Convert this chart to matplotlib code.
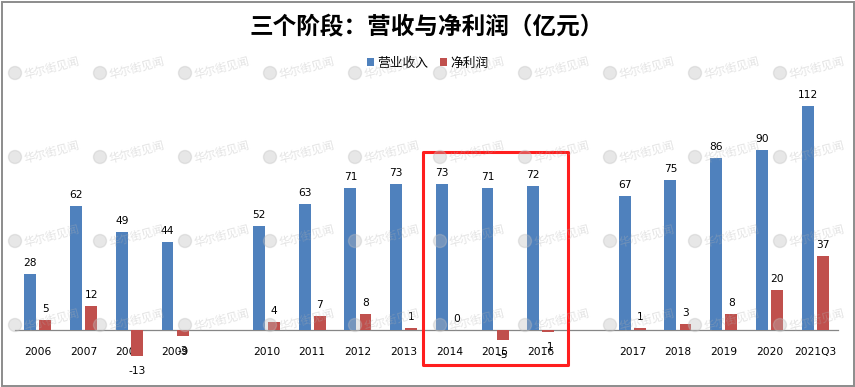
import matplotlib
matplotlib.use('Agg')
import matplotlib.pyplot as plt
import numpy as np
from matplotlib.patches import Rectangle, Circle

plt.rcParams['font.family'] = ['DejaVu Sans', 'Noto Sans CJK SC']

# ---- data ----
categories = ['2006', '2007', '2008', '2009', '',
              '2010', '2011', '2012', '2013', '2014', '2015', '2016', '',
              '2017', '2018', '2019', '2020', '2021Q3']
revenue = [28, 62, 49, 44, None, 52, 63, 71, 73, 73, 71, 72, None, 67, 75, 86, 90, 112]
profit = [5, 12, -13, -3, None, 4, 7, 8, 1, 0, -5, -1, None, 1, 3, 8, 20, 37]
series_names = ['营业收入', '净利润']
title = '三个阶段：营收与净利润（亿元）'
highlight = ['2014', '2016']
watermark = '华尔街见闻'

BLUE = '#4F81BD'
RED = '#C0504D'

W, H = 855, 387
fig = plt.figure(figsize=(W / 100, H / 100), dpi=100)
ax = fig.add_axes([15 / W, (H - 380) / H, 823 / W, 300 / H])

x = np.arange(len(categories))
rev = np.array([np.nan if v is None else v for v in revenue], dtype=float)
pro = np.array([np.nan if v is None else v for v in profit], dtype=float)

bw = 0.26
off = 0.165
b1 = ax.bar(x - off, rev, bw, color=BLUE, label=series_names[0], zorder=2)
b2 = ax.bar(x + off, pro, bw, color=RED, label=series_names[1], zorder=2)

ax.set_xlim(-0.5, len(categories) - 0.5)
ax.set_ylim(-25, 125)

for s in ['top', 'right', 'left']:
    ax.spines[s].set_visible(False)
ax.spines['bottom'].set_position(('data', 0))
ax.spines['bottom'].set_color('#868686')
ax.spines['bottom'].set_linewidth(0.9)
ax.spines['bottom'].set_zorder(1)
ax.set_yticks([])
ax.set_xticks(x)
ax.set_xticklabels(categories, fontsize=7.7, color='black')
ax.tick_params(axis='x', length=0, pad=12.5)

def label(xs, vals):
    for xi, v in zip(xs, vals):
        if np.isnan(v):
            continue
        dy = 11 if v >= 0 else -15
        ax.annotate(f'{int(v)}', xy=(xi, v), xytext=(0, dy), textcoords='offset pixels',
                    ha='center', va='center', fontsize=7.7, color='black', zorder=3,
                    annotation_clip=False)

label(x - off, rev)
label(x + off, pro)

# highlight box around 2014-2016
i0 = categories.index(highlight[0])
i1 = categories.index(highlight[1])
ax.add_patch(Rectangle((i0 - 0.58, -17.5), (i1 - i0) + 1.18, 106.5, fill=False,
                       edgecolor='#ff1e1e', linewidth=2.2, joinstyle='round',
                       clip_on=False, zorder=4))

# title & legend
fig.text(427 / W, 1 - 26 / H, title, ha='center', va='center', fontsize=17,
         fontweight='bold', family=['Noto Sans CJK SC'])
fig.legend(handles=[b1, b2], labels=series_names, loc='center',
           bbox_to_anchor=(428 / W, 1 - 63 / H), ncol=2, frameon=False,
           prop={'family': 'Noto Sans CJK SC', 'size': 9.2},
           handlelength=0.55, handleheight=0.55, handletextpad=0.25,
           columnspacing=0.9)

# watermarks
for ry in [73, 157, 241, 325]:
    for k in range(10):
        cx = 15 + 85 * k
        fig.patches.append(Circle((cx / 100, (H - ry) / 100), 0.065,
                                  transform=fig.dpi_scale_trans, color='#bdbdbd',
                                  alpha=0.35, zorder=10))
        fig.text((cx + 9) / W, 1 - (ry + 2) / H, watermark, ha='left', va='center',
                 rotation=15, rotation_mode='anchor', fontsize=8.2, color='#b0b0b0',
                 alpha=0.35, family=['Noto Sans CJK SC'], zorder=10)

# outer border
fig.patches.append(Rectangle((1.5 / W, 1.5 / H), (W - 3) / W, (H - 3) / H, fill=False,
                             edgecolor='#8c8c8c', linewidth=1.4,
                             transform=fig.transFigure, zorder=11))

fig.savefig('out.png', dpi=100)
